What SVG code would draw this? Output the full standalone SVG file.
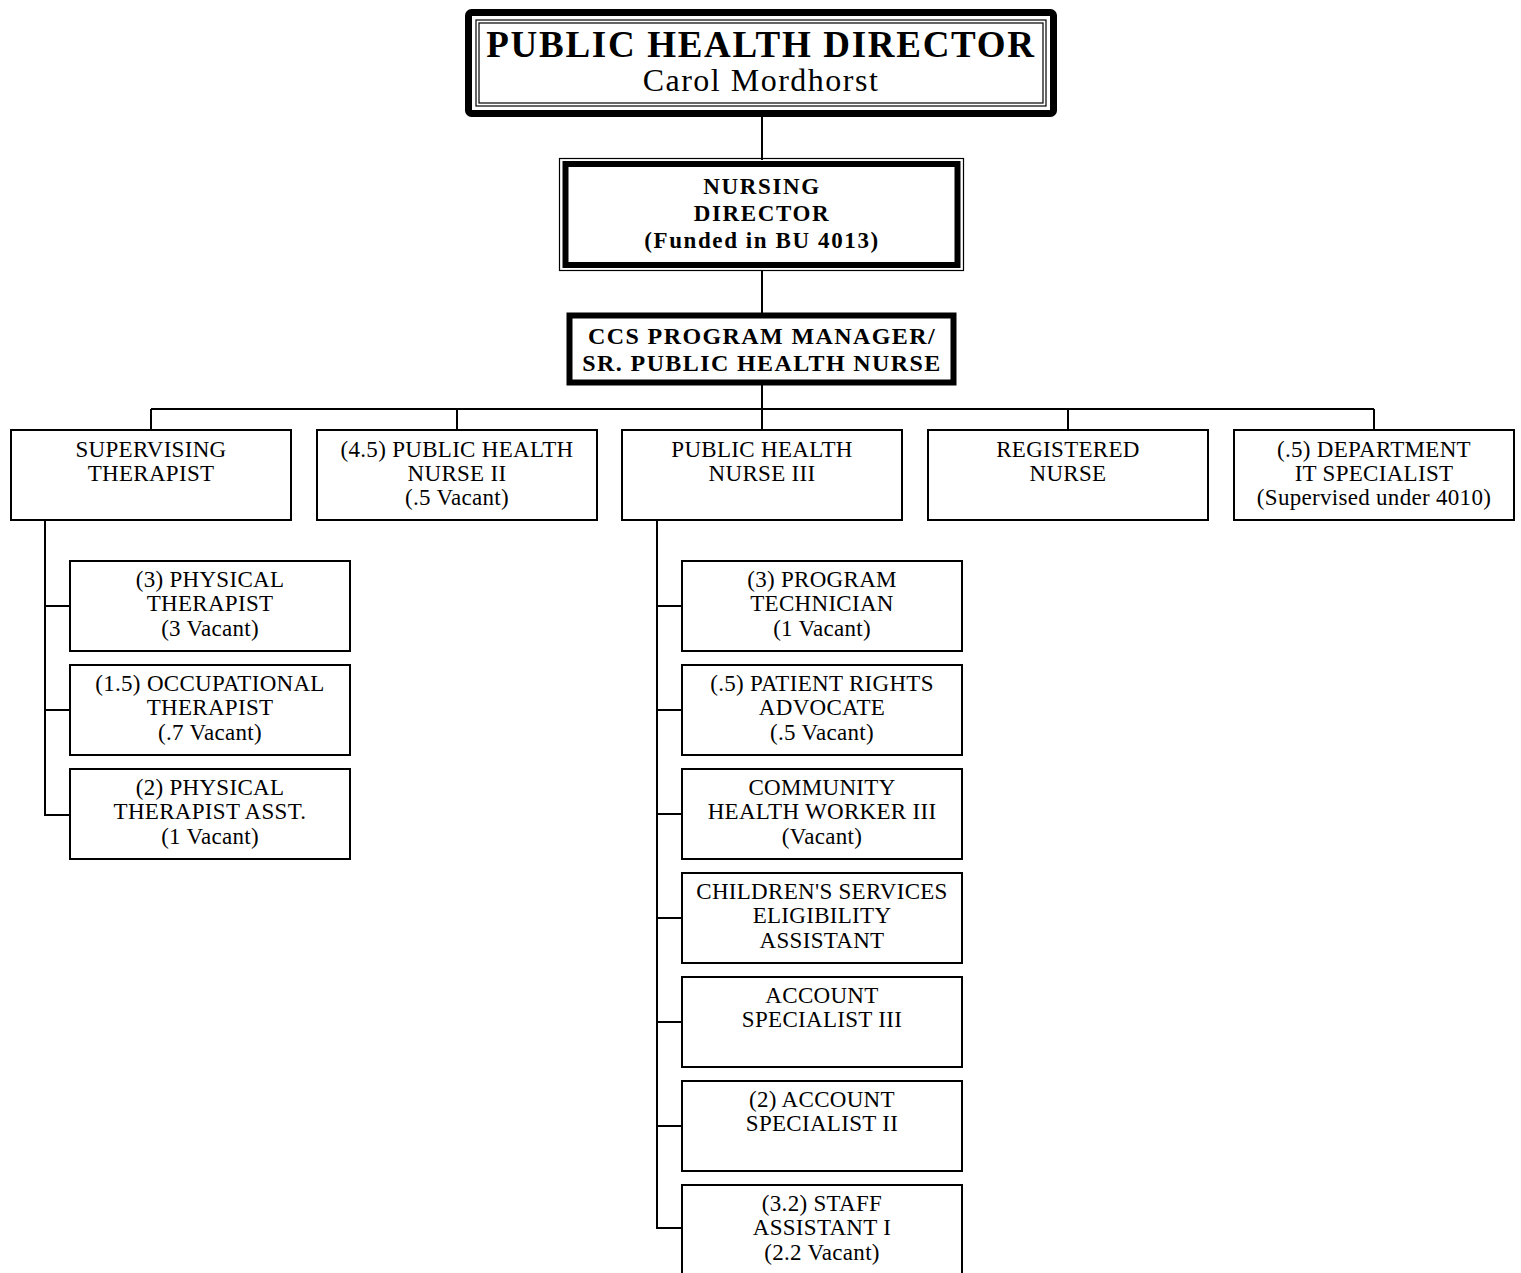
<svg xmlns="http://www.w3.org/2000/svg" width="1521" height="1273" viewBox="0 0 1521 1273">
<style>
.bx{fill:#fff;stroke:#000;stroke-width:2}
.thin{fill:none;stroke:#000;stroke-width:1.2}
.thick{fill:none;stroke:#000;stroke-width:6}
.ln{fill:none;stroke:#000;stroke-width:2}
text{font-family:"Liberation Serif","Times New Roman",serif;fill:#000;text-anchor:middle}
.r{font-size:23px;letter-spacing:0.3px}
.b{font-size:23px;font-weight:bold;letter-spacing:1.6px}
.c{font-size:24px;font-weight:bold;letter-spacing:1.4px}
.t1{font-size:37px;font-weight:bold;letter-spacing:1.7px}
.t2{font-size:32px;letter-spacing:1.5px}
</style>
<rect width="1521" height="1273" fill="#fff"/>
<g id="connectors">
<path class="ln" d="M762 116V160M762 270V314M762 385V409M151 409H1374M151 409V430M457 409V430M762 409V430M1068 409V430M1374 409V430"/>
<path class="ln" d="M45 520V815H70M45 606H70M45 710H70"/>
<path class="ln" d="M657 520V1228H682M657 606H682M657 710H682M657 814H682M657 918H682M657 1022H682M657 1126H682"/>
</g>
<g id="n-director">
<rect x="468.5" y="12.5" width="585" height="101" rx="3" fill="#fff" stroke="#000" stroke-width="7"/>
<rect x="476" y="20" width="570" height="86" class="thin"/>
<rect x="479" y="23" width="564" height="80" class="thin"/>
<text x="761" y="57" class="t1">PUBLIC HEALTH DIRECTOR</text>
<text x="761" y="91" class="t2">Carol Mordhorst</text>
</g>
<g id="n-nursing">
<rect x="559.5" y="158.5" width="404" height="112" fill="#fff" class="thin"/>
<rect x="565.5" y="164" width="392" height="101" class="thick"/>
<text x="762" y="194" class="b">NURSING</text>
<text x="762" y="221" class="b">DIRECTOR</text>
<text x="762" y="248" class="b">(Funded in BU 4013)</text>
</g>
<g id="n-ccs">
<rect x="569.5" y="315.5" width="384" height="67" fill="#fff" class="thick"/>
<text x="762" y="344" class="c">CCS PROGRAM MANAGER/</text>
<text x="762" y="371" class="c">SR. PUBLIC HEALTH NURSE</text>
</g>
<g id="n-suptherapist">
<rect x="11" y="430" width="280" height="90" class="bx"/>
<text x="151" y="457" class="r">SUPERVISING</text>
<text x="151" y="481" class="r">THERAPIST</text>
</g>
<g id="n-phn2">
<rect x="317" y="430" width="280" height="90" class="bx"/>
<text x="457" y="457" class="r">(4.5) PUBLIC HEALTH</text>
<text x="457" y="481" class="r">NURSE II</text>
<text x="457" y="505" class="r">(.5 Vacant)</text>
</g>
<g id="n-phn3">
<rect x="622" y="430" width="280" height="90" class="bx"/>
<text x="762" y="457" class="r">PUBLIC HEALTH</text>
<text x="762" y="481" class="r">NURSE III</text>
</g>
<g id="n-rn">
<rect x="928" y="430" width="280" height="90" class="bx"/>
<text x="1068" y="457" class="r">REGISTERED</text>
<text x="1068" y="481" class="r">NURSE</text>
</g>
<g id="n-it">
<rect x="1234" y="430" width="280" height="90" class="bx"/>
<text x="1374" y="457" class="r">(.5) DEPARTMENT</text>
<text x="1374" y="481" class="r">IT SPECIALIST</text>
<text x="1374" y="505" class="r">(Supervised under 4010)</text>
</g>
<g id="n-pt">
<rect x="70" y="561" width="280" height="90" class="bx"/>
<text x="210" y="587" class="r">(3) PHYSICAL</text>
<text x="210" y="611" class="r">THERAPIST</text>
<text x="210" y="636" class="r">(3 Vacant)</text>
</g>
<g id="n-ot">
<rect x="70" y="665" width="280" height="90" class="bx"/>
<text x="210" y="691" class="r">(1.5) OCCUPATIONAL</text>
<text x="210" y="715" class="r">THERAPIST</text>
<text x="210" y="740" class="r">(.7 Vacant)</text>
</g>
<g id="n-pta">
<rect x="70" y="769" width="280" height="90" class="bx"/>
<text x="210" y="795" class="r">(2) PHYSICAL</text>
<text x="210" y="819" class="r">THERAPIST ASST.</text>
<text x="210" y="844" class="r">(1 Vacant)</text>
</g>
<g id="n-progtech">
<rect x="682" y="561" width="280" height="90" class="bx"/>
<text x="822" y="587" class="r">(3) PROGRAM</text>
<text x="822" y="611" class="r">TECHNICIAN</text>
<text x="822" y="636" class="r">(1 Vacant)</text>
</g>
<g id="n-advocate">
<rect x="682" y="665" width="280" height="90" class="bx"/>
<text x="822" y="691" class="r">(.5) PATIENT RIGHTS</text>
<text x="822" y="715" class="r">ADVOCATE</text>
<text x="822" y="740" class="r">(.5 Vacant)</text>
</g>
<g id="n-chw">
<rect x="682" y="769" width="280" height="90" class="bx"/>
<text x="822" y="795" class="r">COMMUNITY</text>
<text x="822" y="819" class="r">HEALTH WORKER III</text>
<text x="822" y="844" class="r">(Vacant)</text>
</g>
<g id="n-csea">
<rect x="682" y="873" width="280" height="90" class="bx"/>
<text x="822" y="899" class="r">CHILDREN'S SERVICES</text>
<text x="822" y="923" class="r">ELIGIBILITY</text>
<text x="822" y="948" class="r">ASSISTANT</text>
</g>
<g id="n-acct3">
<rect x="682" y="977" width="280" height="90" class="bx"/>
<text x="822" y="1003" class="r">ACCOUNT</text>
<text x="822" y="1027" class="r">SPECIALIST III</text>
</g>
<g id="n-acct2">
<rect x="682" y="1081" width="280" height="90" class="bx"/>
<text x="822" y="1107" class="r">(2) ACCOUNT</text>
<text x="822" y="1131" class="r">SPECIALIST II</text>
</g>
<g id="n-staff">
<rect x="682" y="1185" width="280" height="92" class="bx"/>
<text x="822" y="1211" class="r">(3.2) STAFF</text>
<text x="822" y="1235" class="r">ASSISTANT I</text>
<text x="822" y="1260" class="r">(2.2 Vacant)</text>
</g>
</svg>
